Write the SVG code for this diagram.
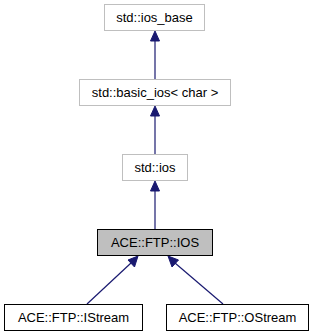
<svg xmlns="http://www.w3.org/2000/svg" width="313" height="336" viewBox="0 0 313 336">
<defs>
<style>
.lbl{font-family:"Liberation Sans",Arial,sans-serif;font-size:13px;fill:#000;text-anchor:middle}
.ext{fill:#fff;stroke:#bfbfbf;stroke-width:1}
.cls{fill:#fff;stroke:#000;stroke-width:1}
.cur{fill:#bfbfbf;stroke:#000;stroke-width:1}
.edge{stroke:#191970;stroke-width:1.2;fill:none}
.head{fill:#191970;stroke:#191970;stroke-width:1}
</style>
</defs>
<rect width="313" height="336" fill="#fff"/>
<g id="connectors">
<line class="edge" x1="155" y1="79" x2="155" y2="40"/>
<polygon class="head" points="155,31 150.5,41 159.5,41"/>
<line class="edge" x1="155" y1="154" x2="155" y2="115"/>
<polygon class="head" points="155,106 150.5,116 159.5,116"/>
<line class="edge" x1="155" y1="229" x2="155" y2="190"/>
<polygon class="head" points="155,181 150.5,191 159.5,191"/>
<line class="edge" x1="87" y1="304" x2="131" y2="263"/>
<polygon class="head" points="138,256 134.5,267 128,260"/>
<line class="edge" x1="223" y1="304" x2="175" y2="263"/>
<polygon class="head" points="168,256 178.5,260 172,267"/>
</g>
<g id="node_ios_base">
<rect class="ext" x="104.5" y="4.5" width="100" height="26"/>
<text class="lbl" x="154.5" y="22">std::ios_base</text>
</g>
<g id="node_basic_ios">
<rect class="ext" x="79.5" y="79.5" width="151" height="26"/>
<text class="lbl" x="155" y="97">std::basic_ios&lt; char &gt;</text>
</g>
<g id="node_ios">
<rect class="ext" x="122.5" y="154.5" width="65" height="26"/>
<text class="lbl" x="155" y="172">std::ios</text>
</g>
<g id="node_IOS">
<rect class="cur" x="97.5" y="229.5" width="115" height="26"/>
<text class="lbl" x="155" y="247">ACE::FTP::IOS</text>
</g>
<g id="node_IStream">
<rect class="cls" x="4.5" y="304.5" width="138" height="26"/>
<text class="lbl" x="73.5" y="322">ACE::FTP::IStream</text>
</g>
<g id="node_OStream">
<rect class="cls" x="166.5" y="304.5" width="142" height="26"/>
<text class="lbl" x="237.5" y="322">ACE::FTP::OStream</text>
</g>
</svg>
